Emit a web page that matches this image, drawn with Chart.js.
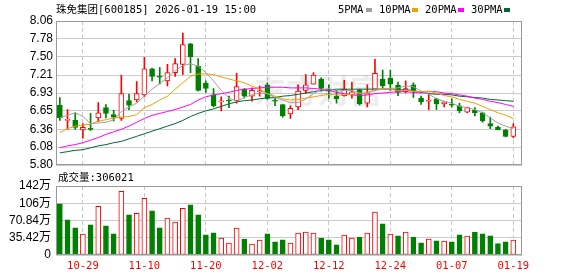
<!DOCTYPE html>
<html>
<head>
<meta charset="utf-8">
<script src="https://cdn.jsdelivr.net/npm/chart.js@4.4.0/dist/chart.umd.min.js"></script>
<style>
  body { margin: 0; background: #fff; width: 578px; height: 276px; position: relative; overflow: hidden; }
  canvas { position: absolute; left: 0; }
  #kline { top: 0; }
  #vol { top: 170px; }
  .txt { position: absolute; font-family: "DejaVu Sans Mono", "Noto Sans CJK SC", monospace; font-size: 10.5px; line-height: 13px; color: #000; white-space: nowrap; }
  .sw { position: absolute; width: 6px; height: 4px; top: 8px; }
</style>
</head>
<body>
<canvas id="kline" width="578" height="180"></canvas>
<canvas id="vol" width="578" height="106"></canvas>

<div class="txt" style="left:56px;top:3px">珠免集团[600185] 2026-01-19 15:00</div>
<div class="txt" style="left:338px;top:3px">5PMA</div><div class="sw" style="left:366px;background:#a0a0a0"></div>
<div class="txt" style="left:379px;top:3px">10PMA</div><div class="sw" style="left:412px;background:#f0a000"></div>
<div class="txt" style="left:425px;top:3px">20PMA</div><div class="sw" style="left:458px;background:#ff00ff"></div>
<div class="txt" style="left:471px;top:3px">30PMA</div><div class="sw" style="left:504px;background:#006633"></div>
<div class="txt" style="left:58px;top:171px">成交量:306021</div>

<script>
// trading days shown
const dates = ['10-24','10-27','10-28','10-29','10-30','10-31','11-03','11-04','11-05','11-06',
  '11-07','11-10','11-11','11-12','11-13','11-14','11-17','11-18','11-19','11-20',
  '11-21','11-24','11-25','11-26','11-27','11-28','12-01','12-02','12-03','12-04',
  '12-05','12-08','12-09','12-10','12-11','12-12','12-15','12-16','12-17','12-18',
  '12-19','12-22','12-23','12-24','12-25','12-26','12-29','12-30','12-31','01-05',
  '01-06','01-07','01-08','01-09','01-12','01-13','01-14','01-15','01-16','01-19'];
const tickDates = ['10-29','11-10','11-20','12-02','12-12','12-24','01-07','01-19'];

const openP = [6.74,6.50,6.50,6.35,6.37,6.54,6.70,6.59,6.53,6.81,
  6.82,6.90,7.31,7.19,7.12,7.25,7.38,7.70,7.35,7.08,
  6.90,6.79,6.81,6.81,6.99,6.88,6.95,7.06,6.81,6.75,
  6.60,6.71,6.97,7.07,7.15,6.97,6.88,6.89,6.90,6.97,
  6.77,6.99,7.15,7.16,7.05,6.95,7.06,6.85,6.80,6.84,
  6.76,6.75,6.73,6.63,6.66,6.62,6.45,6.39,6.35,6.25];
const highP = [6.86,6.67,6.62,6.45,6.61,6.78,6.75,6.66,7.21,6.91,
  7.11,7.49,7.32,7.33,7.38,7.47,7.87,7.71,7.47,7.12,
  7.00,6.87,6.88,7.24,7.00,7.01,7.04,7.09,6.85,6.75,
  6.73,7.06,7.22,7.25,7.17,7.06,6.97,7.13,7.10,6.99,
  7.06,7.46,7.29,7.29,7.10,7.12,7.09,6.88,6.91,6.85,
  6.79,6.84,6.77,6.71,6.70,6.63,6.55,6.41,6.36,6.45];
const lowP = [6.50,6.36,6.36,6.22,6.34,6.48,6.54,6.49,6.50,6.67,
  6.79,6.87,7.12,7.07,7.04,7.19,7.22,7.25,6.96,6.94,
  6.71,6.65,6.70,6.77,6.85,6.80,6.88,6.83,6.73,6.55,
  6.53,6.67,6.92,7.07,6.96,6.85,6.77,6.88,6.85,6.74,
  6.71,6.97,7.01,6.97,6.89,6.93,6.86,6.75,6.67,6.67,
  6.71,6.71,6.62,6.62,6.57,6.47,6.37,6.35,6.24,6.23];
const closeP = [6.54,6.51,6.39,6.39,6.36,6.62,6.61,6.55,6.92,6.74,
  6.92,7.31,7.19,7.18,7.25,7.39,7.69,7.50,6.97,7.00,
  6.73,6.80,6.80,7.03,6.88,6.97,6.96,6.85,6.80,6.57,
  6.69,6.96,7.06,7.21,7.00,6.96,6.84,6.99,6.95,6.76,
  6.92,7.24,7.04,7.07,6.94,7.00,6.97,6.79,6.81,6.76,
  6.79,6.74,6.65,6.70,6.62,6.49,6.41,6.35,6.25,6.40];

const ma5 = [6.54,6.58,6.62,6.56,6.45,6.46,6.47,6.51,6.64,6.71,
  6.77,6.88,6.99,7.08,7.17,7.28,7.36,7.39,7.35,7.25,
  7.12,6.97,6.85,6.80,6.86,6.90,6.93,6.92,6.86,6.82,
  6.78,6.78,6.83,6.92,6.98,7.00,6.96,6.97,6.97,6.93,
  6.92,6.99,7.00,7.00,7.01,7.04,7.03,6.96,6.91,6.84,
  6.80,6.77,6.72,6.70,6.67,6.62,6.54,6.46,6.41,6.37];
const ma10 = [6.31,6.37,6.41,6.43,6.44,6.49,6.51,6.54,6.55,6.56,
  6.59,6.70,6.75,6.82,6.88,6.99,7.09,7.19,7.23,7.23,
  7.22,7.18,7.15,7.12,7.09,7.04,6.99,6.92,6.88,6.84,
  6.82,6.83,6.85,6.87,6.89,6.91,6.90,6.90,6.91,6.92,
  6.94,6.97,6.99,6.99,6.97,6.97,6.96,6.95,6.96,6.93,
  6.89,6.87,6.83,6.80,6.77,6.72,6.67,6.62,6.58,6.53];
const ma20 = [6.07,6.10,6.12,6.15,6.19,6.23,6.28,6.32,6.36,6.41,
  6.47,6.53,6.58,6.61,6.64,6.67,6.71,6.75,6.82,6.87,
  6.90,6.92,6.94,6.97,6.99,7.00,7.01,7.02,7.02,7.02,
  7.01,7.01,7.01,7.00,6.99,6.97,6.94,6.92,6.90,6.89,
  6.90,6.92,6.93,6.94,6.95,6.95,6.94,6.93,6.95,6.95,
  6.93,6.92,6.90,6.88,6.85,6.83,6.80,6.78,6.75,6.72];
const ma30 = [5.99,6.01,6.03,6.04,6.07,6.10,6.12,6.15,6.17,6.21,
  6.25,6.29,6.33,6.37,6.41,6.45,6.50,6.56,6.61,6.65,
  6.68,6.72,6.76,6.79,6.81,6.82,6.84,6.85,6.86,6.88,
  6.89,6.91,6.93,6.95,6.97,6.98,6.99,6.99,6.99,6.99,
  6.99,6.99,6.99,6.99,6.98,6.98,6.97,6.94,6.92,6.91,
  6.91,6.90,6.88,6.87,6.86,6.85,6.83,6.82,6.81,6.80];

// volume in 万手, and whether the bar is drawn red (1) or green (0)
const vol = [104.9,72.2,55.9,42.9,62.0,100.1,59.9,43.6,130.8,82.4,
  85.8,116.5,90.6,55.9,75.6,67.4,96.0,102.9,82.4,41.6,
  45.6,34.7,24.5,55.2,32.7,22.5,30.7,43.6,27.2,31.3,
  24.5,45.0,47.0,45.0,34.7,31.3,21.1,40.9,34.7,36.8,
  45.0,87.9,64.0,42.9,39.5,47.0,36.8,25.2,32.7,29.3,
  28.6,27.2,41.6,38.8,47.0,43.6,39.5,23.2,27.2,30.6];
const volUp = [0,0,0,1,0,1,0,0,1,0, 1,1,0,0,1,1,1,0,0,0,
  0,1,1,1,0,1,1,0,0,0, 1,1,1,1,0,0,0,1,1,0,
  1,1,0,1,0,1,0,0,1,0, 1,0,0,1,0,0,0,0,0,1];

const priceTicks = [5.80, 6.08, 6.36, 6.65, 6.93, 7.21, 7.50, 7.78, 8.06];
const volTicks = [0, 35.42, 70.84, 106.26, 141.68];
const volTickLabels = ['0', '35.42万', '70.84万', '106万', '142万'];

const RED = '#ff0000';
const GREEN = '#008000';
const idx = dates.map((d, i) => i);
const tickIdx = tickDates.map(d => dates.indexOf(d));
const isUp = i => closeP[i] >= openP[i];

function xAxis(showLabels) {
  return {
    type: 'linear',
    min: -0.5,
    max: 60.13,
    offset: false,
    afterBuildTicks: s => { s.ticks = tickIdx.map(v => ({ value: v })); },
    ticks: {
      display: showLabels,
      autoSkip: false,
      maxRotation: 0,
      color: RED,
      padding: 5,
      font: { family: '"DejaVu Sans Mono", monospace', size: 10.5 },
      callback: (v, i) => tickDates[i]
    },
    grid: { color: '#c8c8c8', drawTicks: false, offset: false },
    border: { display: false, dash: [4, 3] },
    afterFit: s => { s.height = showLabels ? 21 : 0; }
  };
}

const frame = {
  id: 'frame',
  afterDraw(chart) {
    const a = chart.chartArea, g = chart.ctx;
    g.save();
    g.strokeStyle = '#999';
    g.lineWidth = 1;
    g.strokeRect(Math.round(a.left) + 0.5, Math.round(a.top) + 0.5,
      Math.round(a.right - a.left) - 1, Math.round(a.bottom - a.top) - 1);
    g.restore();
  }
};

const watermark = {
  id: 'watermark',
  beforeDatasetsDraw(chart) {
    const g = chart.ctx;
    g.save();
    g.fillStyle = 'rgba(0,0,0,0.07)';
    g.font = 'bold 32px "Noto Sans CJK SC"';
    g.textAlign = 'center';
    g.textBaseline = 'middle';
    g.fillText('东方财富', 318, 91);
    g.restore();
  }
};

function maLine(data, color) {
  return {
    type: 'line',
    data: idx.map(i => ({ x: i, y: data[i] })),
    borderColor: color,
    borderWidth: 1,
    pointRadius: 0,
    tension: 0,
    order: 0
  };
}

new Chart(document.getElementById('kline'), {
  type: 'bar',
  data: {
    datasets: [
      {
        data: idx.map(i => ({ x: i, y: [lowP[i], highP[i]] })),
        backgroundColor: c => isUp(c.dataIndex) ? RED : GREEN,
        borderWidth: 0,
        barThickness: 1,
        grouped: false,
        order: 2
      },
      {
        data: idx.map(i => ({ x: i, y: [openP[i], closeP[i]] })),
        backgroundColor: c => isUp(c.dataIndex) ? '#ffffff' : GREEN,
        borderColor: c => isUp(c.dataIndex) ? RED : GREEN,
        borderWidth: 1,
        borderSkipped: false,
        barThickness: 5,
        minBarLength: 1,
        grouped: false,
        order: 1
      },
      maLine(ma5, '#a0a0a0'),
      maLine(ma10, '#f0a000'),
      maLine(ma20, '#ff00ff'),
      maLine(ma30, '#006633')
    ]
  },
  options: {
    responsive: false,
    animation: false,
    devicePixelRatio: 1,
    events: [],
    layout: { padding: { top: 21, right: 56, bottom: 15, left: 0 } },
    plugins: { legend: { display: false }, tooltip: { enabled: false } },
    scales: {
      x: xAxis(false),
      y: {
        min: 5.80,
        max: 8.06,
        afterBuildTicks: s => { s.ticks = priceTicks.map(v => ({ value: v })); },
        ticks: {
          color: '#000',
          padding: 3,
          autoSkip: false,
          font: { family: '"Liberation Sans", Arial', size: 12 },
          callback: (v, i) => priceTicks[i].toFixed(2)
        },
        grid: { color: '#cccccc', drawTicks: false },
        border: { display: false },
        afterFit: s => { s.width = 56; }
      }
    }
  },
  plugins: [watermark, frame]
});

new Chart(document.getElementById('vol'), {
  type: 'bar',
  data: {
    datasets: [{
      data: idx.map(i => ({ x: i, y: vol[i] })),
      backgroundColor: c => volUp[c.dataIndex] ? '#ffffff' : GREEN,
      borderColor: c => volUp[c.dataIndex] ? RED : GREEN,
      borderWidth: 1,
      borderSkipped: false,
      barThickness: 5,
      grouped: false
    }]
  },
  options: {
    responsive: false,
    animation: false,
    devicePixelRatio: 1,
    events: [],
    layout: { padding: { top: 16, right: 56, bottom: 0, left: 0 } },
    plugins: { legend: { display: false }, tooltip: { enabled: false } },
    scales: {
      x: xAxis(true),
      y: {
        min: 0,
        max: 141.68,
        afterBuildTicks: s => { s.ticks = volTicks.map(v => ({ value: v })); },
        ticks: {
          color: '#000',
          padding: 5,
          autoSkip: false,
          font: { family: '"Liberation Sans", "Noto Sans CJK SC", Arial', size: 12 },
          callback: (v, i) => volTickLabels[i]
        },
        grid: { color: '#cccccc', drawTicks: false },
        border: { display: false },
        afterFit: s => { s.width = 56; }
      }
    }
  },
  plugins: [frame]
});
</script>
</body>
</html>
